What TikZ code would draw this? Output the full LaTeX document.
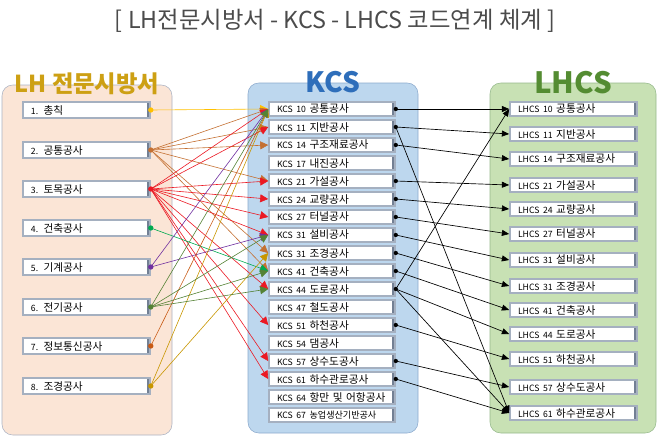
\documentclass[tikz,border=0pt]{standalone}
\usepackage{fontspec}
\setmainfont{Noto Sans CJK KR}
\usepackage{tikz}
\usetikzlibrary{arrows.meta,positioning}
\definecolor{titlegray}{RGB}{75,75,75}
\definecolor{lhfill}{RGB}{251,229,214}
\definecolor{lhline}{RGB}{170,178,195}
\definecolor{kcsfill}{RGB}{189,215,238}
\definecolor{kcsline}{RGB}{140,170,205}
\definecolor{lhcsfill}{RGB}{200,225,180}
\definecolor{lhcsline}{RGB}{150,185,140}
\definecolor{lhhead}{RGB}{205,160,20}
\definecolor{kcshead}{RGB}{46,110,186}
\definecolor{lhcshead}{RGB}{84,140,50}
\definecolor{boxline}{RGB}{165,176,192}
\definecolor{boxedge}{RGB}{115,128,148}
\definecolor{colgen}{RGB}{255,192,0}
\definecolor{colcom}{RGB}{196,112,50}
\definecolor{colciv}{RGB}{235,25,35}
\definecolor{colarc}{RGB}{0,170,80}
\definecolor{colmec}{RGB}{112,48,160}
\definecolor{colele}{RGB}{84,130,53}
\definecolor{colinf}{RGB}{200,90,20}
\definecolor{collan}{RGB}{200,150,0}
\newcommand{\codeno}[1]{{\fontsize{6.5}{7}\selectfont #1}}

\tikzset{
  codebox/.style={draw=boxline, line width=1.2pt, fill=white, inner ysep=0pt, inner xsep=6pt,
    align=left, minimum height=10.5pt, font=\fontsize{8}{9}\selectfont,
    path picture={\fill[boxedge] ([xshift=-2.5pt]path picture bounding box.north east)
      rectangle (path picture bounding box.south east);}},
  specbox/.style={codebox, text width=83.25pt, minimum height=12pt},
  kcsbox/.style={codebox, text width=82.5pt},
  lhcsbox/.style={codebox, text width=83.25pt},
  link/.style={line width=0.45pt, -{Triangle[length=6pt,width=6pt]}},
  blink/.style={line width=0.5pt, -{Triangle[length=5.5pt,width=4.5pt]}},
}

\begin{document}
\begin{tikzpicture}[x=0.75pt, y=-0.75pt]
  \useasboundingbox (0,0) rectangle (658,437);
  \node[titlegray, font=\fontsize{17.5}{19}\selectfont] (title) at (335,21)
    {[ LH전문시방서 - KCS - LHCS 코드연계 체계 ]};

  \draw[lhline, fill=lhfill, rounded corners=8pt] (2,85) rectangle (172,435);
  \draw[kcsline, fill=kcsfill, rounded corners=8pt] (248,83) rectangle (418,433);
  \draw[lhcsline, fill=lhcsfill, rounded corners=8pt] (490,83) rectangle (656,433);

  \node[lhhead, font=\fontsize{17.5}{19}\selectfont\bfseries] (lhhd) at (87,84) {LH 전문시방서};
  \node[kcshead, font=\fontsize{21}{22}\selectfont\bfseries] (kcshd) at (333,82) {KCS};
  \node[lhcshead, font=\fontsize{22}{23}\selectfont\bfseries] (lhcshd) at (573,83) {LHCS};

  \foreach \nm/\no/\txt/\y in {l1/1./총칙/110, l2/2./공통공사/150, l3/3./토목공사/189,
      l4/4./건축공사/228, l5/5./기계공사/267, l6/6./전기공사/307, l7/7./정보통신공사/346,
      l8/8./조경공사/386}
    \node[specbox] (\nm) at (86.5,\y) {\codeno{\no} \txt};

  \foreach \nm/\no/\txt [count=\i from 0] in {k10/10/공통공사, k11/11/지반공사,
      k14/14/구조재료공사, k17/17/내진공사, k21/21/가설공사, k24/24/교량공사, k27/27/터널공사,
      k31a/31/설비공사, k31b/31/조경공사, k41/41/건축공사, k44/44/도로공사, k47/47/철도공사,
      k51/51/하천공사, k54/54/댐공사, k57/57/상수도공사, k61/61/하수관로공사,
      k64/64/항만 및 어항공사, k67/67/{\fontsize{6.8}{8}\selectfont 농업생산기반공사}}
    \node[kcsbox] (\nm) at (332,{109+18*\i}) {\codeno{KCS \no} \txt};

  \foreach \nm/\no/\txt/\y in {h10/10/공통공사/109, h11/11/지반공사/134, h14/14/구조재료공사/159,
      h21/21/가설공사/185, h24/24/교량공사/209, h27/27/터널공사/234, h31a/31/설비공사/260,
      h31b/31/조경공사/286, h41/41/건축공사/310, h44/44/도로공사/334, h51/51/하천공사/359,
      h57/57/상수도공사/387, h61/61/하수관로공사/413}
    \node[lhcsbox] (\nm) at (573.5,\y) {\codeno{LHCS \no} \txt};

  \foreach \a/\b/\c in {l1/k10/colgen, l2/k10/colcom, l2/k11/colcom, l2/k14/colcom,
      l2/k21/colcom, l2/k31b/colcom, l2/k41/colcom, l3/k10/colciv, l3/k11/colciv,
      l3/k21/colciv, l3/k24/colciv, l3/k27/colciv, l3/k31a/colciv, l3/k44/colciv,
      l3/k51/colciv, l3/k57/colciv, l3/k61/colciv, l4/k41/colarc, l5/k10/colmec,
      l5/k31a/colmec, l7/k10/colinf, l8/k10/collan, l8/k31b/collan, l6/k10/colele,
      l6/k31a/colele, l6/k41/colele, l6/k44/colele}
    \draw[link, \c] (\a.east) -- (\b.west);
  \foreach \a/\c in {l1/colgen, l2/colcom, l3/colciv, l4/colarc, l5/colmec, l6/colele,
      l7/colinf, l8/collan}
    \fill[\c] (\a.east) circle (2pt);

  \foreach \a/\b in {k10/h10, k11/h11, k11/h61, k14/h14, k21/h21, k24/h24, k27/h27,
      k31a/h31a, k31b/h31b, k41/h41, k44/h10, k44/h44, k44/h61, k51/h51, k57/h57, k61/h61}
    \draw[blink] (\a.east) -- (\b.west);
  \foreach \a in {k10,k11,k14,k21,k24,k27,k31a,k31b,k41,k44,k51,k57,k61}
    \fill (\a.east) circle (1.6pt);
\end{tikzpicture}
\end{document}
